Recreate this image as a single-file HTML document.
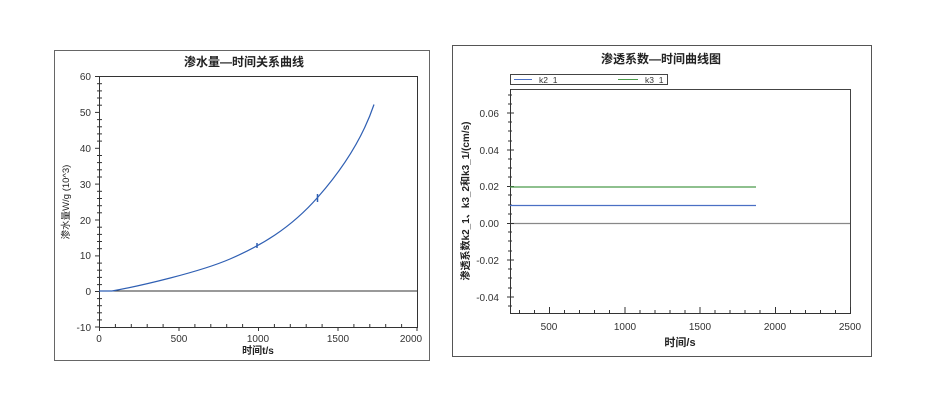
<!DOCTYPE html>
<html><head><meta charset="utf-8"><style>
html,body{margin:0;padding:0;background:#fff;}
svg{display:block;font-family:"Liberation Sans","Noto Sans CJK SC",sans-serif;}
</style></head><body>
<svg width="926" height="402" viewBox="0 0 926 402" xmlns="http://www.w3.org/2000/svg">
<rect width="926" height="402" fill="#fff"/>
<!-- LEFT CHART -->
<rect x="54.5" y="50.5" width="375" height="310" fill="#fff" stroke="#666" stroke-width="1"/>
<text x="244" y="66" font-size="12" font-weight="bold" text-anchor="middle" fill="#222">渗水量—时间关系曲线</text>
<rect x="99.5" y="76.5" width="318" height="251" fill="none" stroke="#333" stroke-width="1"/>
<line x1="99" y1="291" x2="417" y2="291" stroke="#333" stroke-width="1"/>
<g stroke="#333" stroke-width="1">
<line x1="95" y1="76.5" x2="99" y2="76.5"/><line x1="95" y1="112.4" x2="99" y2="112.4"/><line x1="95" y1="148.3" x2="99" y2="148.3"/><line x1="95" y1="184.1" x2="99" y2="184.1"/><line x1="95" y1="220" x2="99" y2="220"/><line x1="95" y1="255.9" x2="99" y2="255.9"/><line x1="95" y1="291.5" x2="99" y2="291.5"/><line x1="95" y1="327" x2="99" y2="327"/>
<line x1="99.5" y1="327" x2="99.5" y2="331"/><line x1="179" y1="327" x2="179" y2="331"/><line x1="258.5" y1="327" x2="258.5" y2="331"/><line x1="338" y1="327" x2="338" y2="331"/><line x1="417" y1="327" x2="417" y2="331"/>
<line x1="115.4" y1="327" x2="115.4" y2="324"/><line x1="131.3" y1="327" x2="131.3" y2="324"/><line x1="147.2" y1="327" x2="147.2" y2="324"/><line x1="163.1" y1="327" x2="163.1" y2="324"/><line x1="194.9" y1="327" x2="194.9" y2="324"/><line x1="210.8" y1="327" x2="210.8" y2="324"/><line x1="226.7" y1="327" x2="226.7" y2="324"/><line x1="242.6" y1="327" x2="242.6" y2="324"/><line x1="274.4" y1="327" x2="274.4" y2="324"/><line x1="290.3" y1="327" x2="290.3" y2="324"/><line x1="306.2" y1="327" x2="306.2" y2="324"/><line x1="322.1" y1="327" x2="322.1" y2="324"/><line x1="353.9" y1="327" x2="353.9" y2="324"/><line x1="369.8" y1="327" x2="369.8" y2="324"/><line x1="385.7" y1="327" x2="385.7" y2="324"/><line x1="401.6" y1="327" x2="401.6" y2="324"/>
</g>
<g stroke="#333" stroke-width="1">
<line x1="97" y1="83.7" x2="102" y2="83.7"/><line x1="97" y1="90.9" x2="102" y2="90.9"/><line x1="97" y1="98.0" x2="102" y2="98.0"/><line x1="97" y1="105.2" x2="102" y2="105.2"/>
<line x1="97" y1="119.6" x2="102" y2="119.6"/><line x1="97" y1="126.8" x2="102" y2="126.8"/><line x1="97" y1="133.9" x2="102" y2="133.9"/><line x1="97" y1="141.1" x2="102" y2="141.1"/>
<line x1="97" y1="155.5" x2="102" y2="155.5"/><line x1="97" y1="162.6" x2="102" y2="162.6"/><line x1="97" y1="169.8" x2="102" y2="169.8"/><line x1="97" y1="177.0" x2="102" y2="177.0"/>
<line x1="97" y1="191.3" x2="102" y2="191.3"/><line x1="97" y1="198.5" x2="102" y2="198.5"/><line x1="97" y1="205.7" x2="102" y2="205.7"/><line x1="97" y1="212.8" x2="102" y2="212.8"/>
<line x1="97" y1="227.2" x2="102" y2="227.2"/><line x1="97" y1="234.4" x2="102" y2="234.4"/><line x1="97" y1="241.5" x2="102" y2="241.5"/><line x1="97" y1="248.7" x2="102" y2="248.7"/>
<line x1="97" y1="263.1" x2="102" y2="263.1"/><line x1="97" y1="270.2" x2="102" y2="270.2"/><line x1="97" y1="277.4" x2="102" y2="277.4"/><line x1="97" y1="284.6" x2="102" y2="284.6"/>
<line x1="97" y1="298.6" x2="102" y2="298.6"/><line x1="97" y1="305.7" x2="102" y2="305.7"/><line x1="97" y1="312.8" x2="102" y2="312.8"/><line x1="97" y1="319.9" x2="102" y2="319.9"/>
</g>
<g font-size="10" fill="#333" text-anchor="end">
<text x="91" y="80">60</text><text x="91" y="116">50</text><text x="91" y="152">40</text><text x="91" y="188">30</text><text x="91" y="224">20</text><text x="91" y="259">10</text><text x="91" y="295">0</text><text x="91" y="331">-10</text>
</g>
<g font-size="10" fill="#333" text-anchor="middle">
<text x="99" y="342">0</text><text x="179" y="342">500</text><text x="258" y="342">1000</text><text x="338" y="342">1500</text><text x="411" y="342">2000</text>
</g>
<text x="258" y="354" font-size="10" font-weight="bold" text-anchor="middle" fill="#222">时间t/s</text>
<text transform="translate(69,202) rotate(-90)" font-size="9.5" text-anchor="middle" fill="#222">渗水量W/g (10^3)</text>
<path fill="none" stroke="#2f5fb3" stroke-width="1.2" d="M99,291 L112,291 C140,286 200,272 230,259 C260,246 290,229 318,197 C340,172 362,140 374,104.5"/>
<line x1="257" y1="243" x2="257" y2="248" stroke="#2f5fb3" stroke-width="1.5"/>
<line x1="317.5" y1="194" x2="317.5" y2="202" stroke="#2f5fb3" stroke-width="1.5"/>
<!-- RIGHT CHART -->
<rect x="452.5" y="45.5" width="419" height="311" fill="#fff" stroke="#555" stroke-width="1"/>
<text x="661" y="63" font-size="12" font-weight="bold" text-anchor="middle" fill="#222">渗透系数—时间曲线图</text>
<rect x="510.5" y="74.5" width="157" height="10" fill="#fff" stroke="#444" stroke-width="1"/>
<line x1="514" y1="79.5" x2="532" y2="79.5" stroke="#4a6fc4" stroke-width="1"/>
<text x="539" y="83" font-size="8.5" fill="#333">k2_1</text>
<line x1="618" y1="79.5" x2="638" y2="79.5" stroke="#4a9a4a" stroke-width="1"/>
<text x="645" y="83" font-size="8.5" fill="#333">k3_1</text>
<polyline points="510.5,89.5 850.5,89.5 850.5,313.5" fill="none" stroke="#444" stroke-width="1"/>
<line x1="510.5" y1="89" x2="510.5" y2="313" stroke="#333" stroke-width="1"/>
<line x1="510" y1="313.5" x2="851" y2="313.5" stroke="#333" stroke-width="1"/>
<line x1="510" y1="223.5" x2="850" y2="223.5" stroke="#888" stroke-width="1.2"/>
<g stroke="#333" stroke-width="1">
<line x1="507" y1="113" x2="514" y2="113"/><line x1="507" y1="150" x2="514" y2="150"/><line x1="507" y1="186.5" x2="514" y2="186.5"/><line x1="507" y1="223.5" x2="514" y2="223.5"/><line x1="507" y1="260" x2="514" y2="260"/><line x1="507" y1="297" x2="514" y2="297"/>
<line x1="508" y1="95" x2="512" y2="95"/><line x1="508" y1="104" x2="512" y2="104"/><line x1="508" y1="122" x2="512" y2="122"/><line x1="508" y1="131" x2="512" y2="131"/><line x1="508" y1="141" x2="512" y2="141"/><line x1="508" y1="159" x2="512" y2="159"/><line x1="508" y1="168" x2="512" y2="168"/><line x1="508" y1="177" x2="512" y2="177"/><line x1="508" y1="195" x2="512" y2="195"/><line x1="508" y1="205" x2="512" y2="205"/><line x1="508" y1="214" x2="512" y2="214"/><line x1="508" y1="232" x2="512" y2="232"/><line x1="508" y1="241" x2="512" y2="241"/><line x1="508" y1="251" x2="512" y2="251"/><line x1="508" y1="269" x2="512" y2="269"/><line x1="508" y1="278" x2="512" y2="278"/><line x1="508" y1="288" x2="512" y2="288"/><line x1="508" y1="306" x2="512" y2="306"/>
<line x1="549.5" y1="307" x2="549.5" y2="313"/><line x1="625" y1="307" x2="625" y2="313"/><line x1="700" y1="307" x2="700" y2="313"/><line x1="775.5" y1="307" x2="775.5" y2="313"/><line x1="850.5" y1="307" x2="850.5" y2="313"/>
</g>
<g stroke="#333" stroke-width="1">
<line x1="519.5" y1="310" x2="519.5" y2="313"/><line x1="534.5" y1="310" x2="534.5" y2="313"/><line x1="564.5" y1="310" x2="564.5" y2="313"/><line x1="579.5" y1="310" x2="579.5" y2="313"/><line x1="594.5" y1="310" x2="594.5" y2="313"/><line x1="609.5" y1="310" x2="609.5" y2="313"/><line x1="640" y1="310" x2="640" y2="313"/><line x1="655" y1="310" x2="655" y2="313"/><line x1="670" y1="310" x2="670" y2="313"/><line x1="685" y1="310" x2="685" y2="313"/><line x1="715" y1="310" x2="715" y2="313"/><line x1="730" y1="310" x2="730" y2="313"/><line x1="745" y1="310" x2="745" y2="313"/><line x1="760" y1="310" x2="760" y2="313"/><line x1="790.5" y1="310" x2="790.5" y2="313"/><line x1="805.5" y1="310" x2="805.5" y2="313"/><line x1="820.5" y1="310" x2="820.5" y2="313"/><line x1="835.5" y1="310" x2="835.5" y2="313"/>
</g>
<g font-size="10" fill="#333" text-anchor="end">
<text x="499" y="117">0.06</text><text x="499" y="154">0.04</text><text x="499" y="190">0.02</text><text x="499" y="227">0.00</text><text x="499" y="264">-0.02</text><text x="499" y="301">-0.04</text>
</g>
<g font-size="10" fill="#333" text-anchor="middle">
<text x="549" y="330">500</text><text x="625" y="330">1000</text><text x="700" y="330">1500</text><text x="775" y="330">2000</text><text x="850" y="330">2500</text>
</g>
<text x="680" y="346" font-size="11" font-weight="bold" text-anchor="middle" fill="#222">时间/s</text>
<text transform="translate(469,201) rotate(-90)" font-size="10" font-weight="bold" text-anchor="middle" fill="#222">渗透系数k2_1、k3_2和k3_1/(cm/s)</text>
<line x1="510" y1="187" x2="756" y2="187" stroke="#4a9a4a" stroke-width="1.2"/>
<line x1="510" y1="205.5" x2="756" y2="205.5" stroke="#4a6fc4" stroke-width="1.2"/>
</svg>
</body></html>
